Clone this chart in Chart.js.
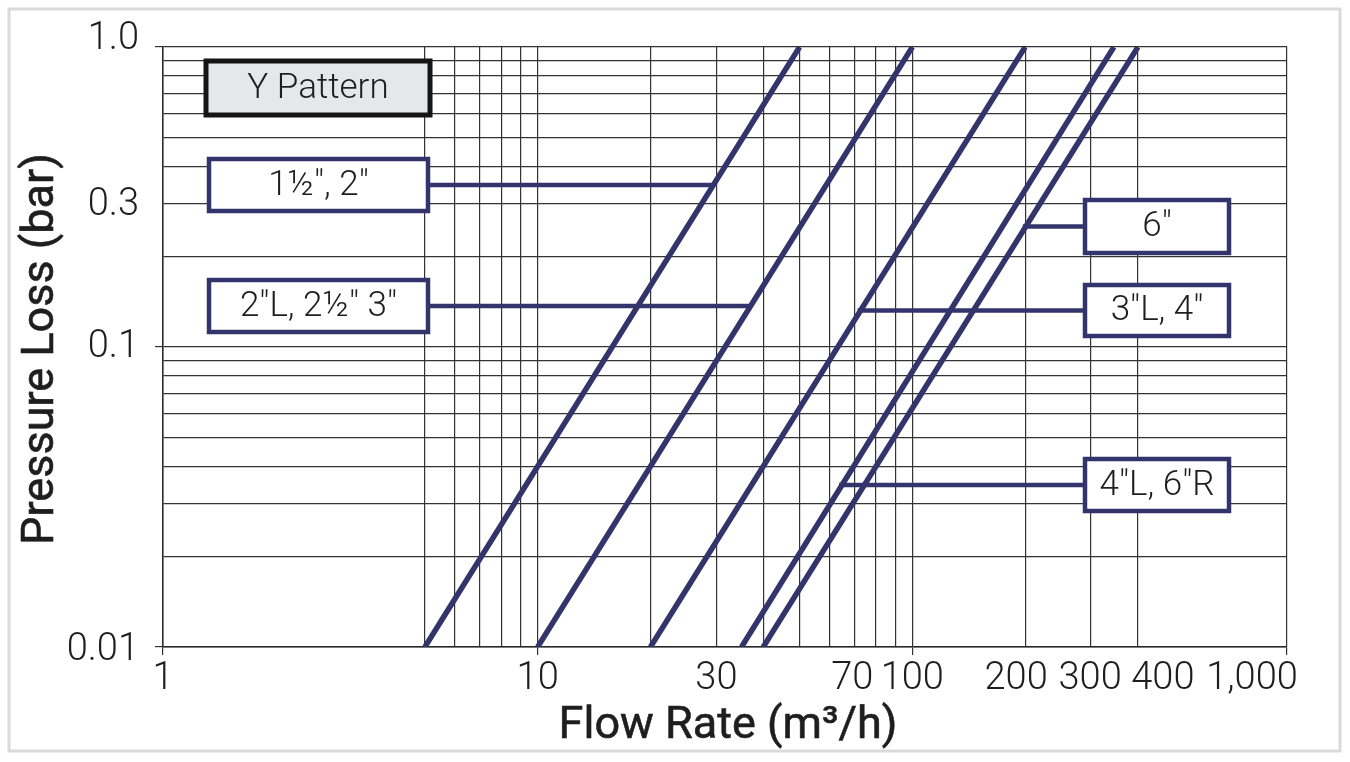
<!DOCTYPE html>
<html>
<head>
<meta charset="utf-8">
<script src="https://cdn.jsdelivr.net/npm/chart.js@4"></script>
<style>
  body { margin: 0; background: #fff; }
  #wrap { width: 1350px; height: 762px; }
</style>
</head>
<body>
<div id="wrap"><canvas id="loss-chart"></canvas></div>
<script>
// each valve size is a straight line on the log-log paper
const sizeNames = ['1½", 2"', '2"L, 2½" 3"', '3"L, 4"', '4"L, 6"R', '6"'];
const flowAtLow = [5, 10, 20, 35, 40];        // m3/h at 0.01 bar
const flowAtHigh = [50, 100, 200, 345, 400];  // m3/h at 1.0 bar
const lossRange = [0.01, 1.0];

// grid lines and labels
const xGrid = [1, 5, 6, 7, 8, 9, 10, 20, 30, 40, 50, 60, 70, 80, 90, 100, 200, 300, 400, 1000];
const xMajor = [1, 10, 100, 1000];
const xLabelValues = [1, 10, 30, 70, 100, 200, 300, 400, 1000];
const xLabels = ['1', '10', '30', '70', '100', '200', '300', '400', '1,000'];
const yGrid = [0.01, 0.02, 0.03, 0.04, 0.05, 0.06, 0.07, 0.08, 0.09,
               0.1, 0.2, 0.3, 0.4, 0.5, 0.6, 0.7, 0.8, 0.9, 1];
const yMajor = [0.01, 0.1, 1];
const yLabelValues = [0.01, 0.1, 0.3, 1];
const yLabels = ['0.01', '0.1', '0.3', '1.0'];

const navy = '#34346c';
const fontFam = 'Roboto, "Noto Sans", sans-serif';

// label boxes, canvas pixels
const boxes = [
  { text: 'Y Pattern', x: 206, y: 61, w: 224, h: 54, fill: '#e6e7ea', stroke: '#151515', lw: 5 },
  { text: sizeNames[0], x: 209, y: 159, w: 219, h: 52, series: 0, side: 'left' },
  { text: sizeNames[1], x: 209, y: 280, w: 219, h: 52, series: 1, side: 'left' },
  { text: sizeNames[4], x: 1085, y: 200, w: 144, h: 53, series: 4, side: 'right' },
  { text: sizeNames[2], x: 1085, y: 285, w: 144, h: 51, series: 2, side: 'right' },
  { text: sizeNames[3], x: 1085, y: 459, w: 144, h: 52, series: 3, side: 'right' }
];
// small hand shifts of the tick labels, as in the original sheet
const xLabelShift = [0, 0, 0, -2, 0, -9, -1, 25, -35];
const yLabelShift = [3, 0, 2, -8];

const datasets = sizeNames.map((name, i) => ({
  label: name,
  data: [{ x: flowAtLow[i], y: lossRange[0] }, { x: flowAtHigh[i], y: lossRange[1] }],
  borderColor: navy,
  borderWidth: 5.5,
  pointRadius: 0,
  clip: 0
}));

// frame around the whole sheet
const framePlugin = {
  id: 'frame',
  beforeDraw(chart) {
    const c = chart.ctx;
    c.save();
    c.fillStyle = '#fff';
    c.fillRect(0, 0, chart.width, chart.height);
    c.strokeStyle = '#dadada';
    c.lineWidth = 3;
    c.strokeRect(9, 9, chart.width - 19, chart.height - 20);
    c.restore();
  }
};

function flowOnLine(i, loss) {
  const lx0 = Math.log10(flowAtLow[i]), lx1 = Math.log10(flowAtHigh[i]);
  const ly0 = Math.log10(lossRange[0]), ly1 = Math.log10(lossRange[1]);
  return Math.pow(10, lx0 + (Math.log10(loss) - ly0) * (lx1 - lx0) / (ly1 - ly0));
}

// semi-bold look: regular glyphs with a thin outline
function heavyText(c, text, x, y) {
  c.fillText(text, x, y);
  c.strokeText(text, x, y);
}

const labelPlugin = {
  id: 'labels',
  afterDraw(chart) {
    const c = chart.ctx;
    const xs = chart.scales.x, ys = chart.scales.y;
    const area = chart.chartArea;
    c.save();

    // leaders from the boxes to their curve
    c.strokeStyle = navy;
    c.lineWidth = 4.5;
    boxes.forEach(b => {
      if (b.series === undefined) return;
      const py = b.y + b.h / 2;
      const px = xs.getPixelForValue(flowOnLine(b.series, ys.getValueForPixel(py)));
      c.beginPath();
      if (b.side === 'left') {
        c.moveTo(b.x + b.w + 2, py);
        c.lineTo(px, py);
      } else {
        c.moveTo(px - 3, py);
        c.lineTo(b.x - 2, py);
      }
      c.stroke();
    });

    // boxes
    c.textAlign = 'center';
    c.textBaseline = 'middle';
    boxes.forEach(b => {
      c.fillStyle = b.fill || '#fff';
      c.fillRect(b.x, b.y, b.w, b.h);
      c.strokeStyle = b.stroke || navy;
      c.lineWidth = b.lw || 4.5;
      c.strokeRect(b.x, b.y, b.w, b.h);
      c.fillStyle = '#1e1e1e';
      c.font = '300 35px ' + fontFam;
      c.fillText(b.text, b.x + b.w / 2, b.y + b.h / 2 + 1);
    });

    // tick labels
    c.fillStyle = '#1e1e1e';
    c.font = '300 38px ' + fontFam;
    c.textAlign = 'center';
    xLabelValues.forEach((v, i) => {
      c.fillText(xLabels[i], xs.getPixelForValue(v) + xLabelShift[i], area.bottom + 32);
    });
    c.textAlign = 'right';
    yLabelValues.forEach((v, i) => {
      c.fillText(yLabels[i], area.left - 24, ys.getPixelForValue(v) + yLabelShift[i]);
    });

    // axis titles
    c.font = '400 45px ' + fontFam;
    c.textAlign = 'center';
    c.strokeStyle = '#1e1e1e';
    c.lineWidth = 0.6;
    heavyText(c, 'Flow Rate (m³/h)', (area.left + area.right) / 2 + 3, area.bottom + 80);
    c.translate(42, (area.top + area.bottom) / 2 + 2);
    c.rotate(-Math.PI / 2);
    heavyText(c, 'Pressure Loss (bar)', 0, 0);
    c.restore();
  }
};

const gridLine = {
  color: '#333',
  lineWidth: 1.2,
  drawTicks: true,
  tickLength: 8,
  tickColor: ctx => (ctx.tick && ctx.tick.major) ? '#333' : 'rgba(0,0,0,0)'
};

new Chart(document.getElementById('loss-chart'), {
  type: 'line',
  data: { datasets: datasets },
  options: {
    responsive: true,
    maintainAspectRatio: false,
    animation: false,
    parsing: false,
    layout: { padding: { left: 155, right: 63, top: 47, bottom: 107 } },
    plugins: { legend: { display: false }, tooltip: { enabled: false } },
    scales: {
      x: {
        type: 'logarithmic',
        min: 1,
        max: 1000,
        afterBuildTicks: s => { s.ticks = xGrid.map(v => ({ value: v, major: xMajor.includes(v) })); },
        ticks: { display: false },
        grid: gridLine,
        border: { color: '#2a2a2a', width: 1.5 }
      },
      y: {
        type: 'logarithmic',
        min: 0.01,
        max: 1,
        afterBuildTicks: s => { s.ticks = yGrid.map(v => ({ value: v, major: yMajor.includes(v) })); },
        ticks: { display: false },
        grid: gridLine,
        border: { color: '#2a2a2a', width: 1.5 }
      }
    }
  },
  plugins: [framePlugin, labelPlugin]
});
</script>
</body>
</html>
